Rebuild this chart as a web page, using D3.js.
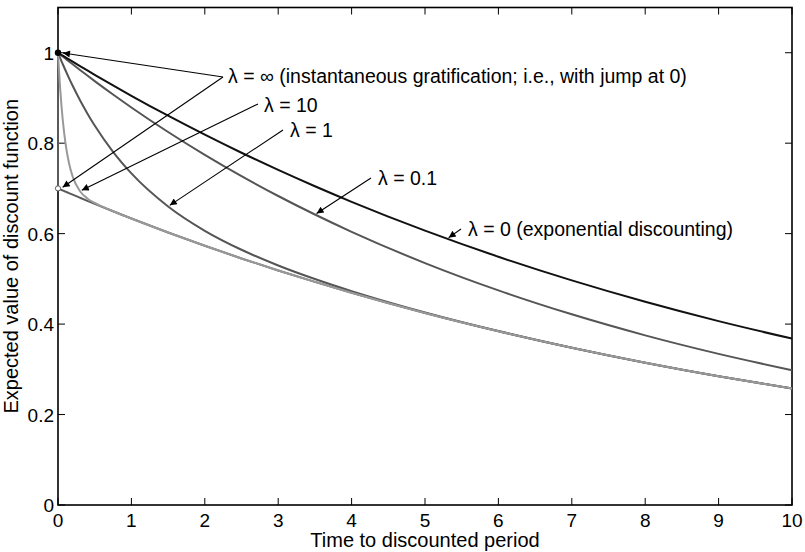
<!DOCTYPE html>
<html>
<head>
<meta charset="utf-8">
<script src="https://cdn.jsdelivr.net/npm/d3@7"></script>
<style>
  html, body { margin: 0; padding: 0; background: #fff; }
  svg { display: block; font-family: "Liberation Sans", Arial, Helvetica, sans-serif; }
</style>
</head>
<body>
<svg id="chart" width="805" height="552"></svg>
<script>
// ---- data ----
const tValues = [0, 0.01, 0.02, 0.03, 0.05, 0.07, 0.1, 0.15, 0.2, 0.3, 0.4, 0.5, 0.75, 1, 1.5, 2, 2.5, 3, 3.5, 4, 5, 6, 7, 8, 9, 10];
const lambda0   = [1, 0.99900, 0.99800, 0.99700, 0.99501, 0.99302, 0.99005, 0.98511, 0.98020, 0.97045, 0.96079, 0.95123, 0.92774, 0.90484, 0.86071, 0.81873, 0.77880, 0.74082, 0.70469, 0.67032, 0.60653, 0.54881, 0.49659, 0.44933, 0.40657, 0.36788];
const lambda01  = [1, 0.99870, 0.99740, 0.99611, 0.99353, 0.99094, 0.98710, 0.98072, 0.97438, 0.96185, 0.94949, 0.93731, 0.90763, 0.87901, 0.82475, 0.77421, 0.72712, 0.68321, 0.64226, 0.60402, 0.53493, 0.47453, 0.42159, 0.37510, 0.33419, 0.29812];
const lambda1   = [1, 0.99602, 0.99207, 0.98816, 0.98046, 0.97288, 0.96179, 0.94395, 0.92690, 0.89500, 0.86576, 0.83895, 0.78089, 0.73325, 0.66012, 0.60635, 0.56434, 0.52963, 0.49966, 0.47290, 0.42580, 0.38458, 0.34775, 0.31458, 0.28462, 0.25753];
const lambda10  = [1, 0.97048, 0.94373, 0.91949, 0.87757, 0.84305, 0.80231, 0.75553, 0.72594, 0.69382, 0.67783, 0.66778, 0.64957, 0.63340, 0.60250, 0.57311, 0.54516, 0.51857, 0.49328, 0.46922, 0.42457, 0.38417, 0.34761, 0.31453, 0.28460, 0.25752];
const lambdaInf = [0.7, 0.69930, 0.69860, 0.69790, 0.69651, 0.69511, 0.69304, 0.68958, 0.68614, 0.67932, 0.67255, 0.66586, 0.64942, 0.63339, 0.60250, 0.57311, 0.54516, 0.51857, 0.49328, 0.46922, 0.42457, 0.38417, 0.34761, 0.31453, 0.28460, 0.25752];
const jumpStart = 1.0;   // lambda = infinity value just before the jump at t = 0
const xTicks = [0, 1, 2, 3, 4, 5, 6, 7, 8, 9, 10];
const yTicks = [0, 0.2, 0.4, 0.6, 0.8, 1];
const xTitle = "Time to discounted period";
const yTitle = "Expected value of discount function";
const annotations = [
  { text: "λ = ∞ (instantaneous gratification; i.e., with jump at 0)", tx: 228, ty: 83, targets: [[0, 1.0], [0, 0.7]], tails: [[223, 77], [223, 77]] },
  { text: "λ = 10", tx: 264, ty: 112, targets: [[0.3, 0.69382]], tails: [[258, 104]] },
  { text: "λ = 1", tx: 290, ty: 137, targets: [[1.5, 0.66012]], tails: [[283, 130]] },
  { text: "λ = 0.1", tx: 378, ty: 185, targets: [[3.5, 0.64226]], tails: [[371, 178]] },
  { text: "λ = 0 (exponential discounting)", tx: 468, ty: 236, targets: [[5.3, 0.58860]], tails: [[461, 229]] }
];

// ---- layout ----
const svg = d3.select("#chart");
const mLeft = 58, mRight = 792, mTop = 7.5, mBottom = 505;
const x = d3.scaleLinear().domain([0, 10]).range([mLeft, mRight]);
const y = d3.scaleLinear().domain([0, 1.1]).range([mBottom, mTop]);

svg.append("defs").append("marker")
  .attr("id", "arrow").attr("viewBox", "0 0 10 10").attr("refX", 10).attr("refY", 5)
  .attr("markerWidth", 11).attr("markerHeight", 7).attr("markerUnits", "userSpaceOnUse")
  .attr("orient", "auto")
  .append("path").attr("d", "M0,0 L10,5 L0,10 Z").attr("fill", "#000");

// axes box with inward ticks on all sides (drawn first so curves sit on top)
const tickLen = 7;
const axG = svg.append("g").attr("stroke", "#000").attr("stroke-width", 1.6);
axG.append("rect").attr("x", mLeft).attr("y", mTop).attr("width", mRight - mLeft).attr("height", mBottom - mTop).attr("fill", "none");
xTicks.forEach(t => {
  axG.append("line").attr("x1", x(t)).attr("x2", x(t)).attr("y1", mBottom).attr("y2", mBottom - tickLen).attr("stroke-width", 1);
  axG.append("line").attr("x1", x(t)).attr("x2", x(t)).attr("y1", mTop).attr("y2", mTop + tickLen).attr("stroke-width", 1);
});
yTicks.forEach(v => {
  axG.append("line").attr("x1", mLeft).attr("x2", mLeft + tickLen).attr("y1", y(v)).attr("y2", y(v)).attr("stroke-width", 1);
  axG.append("line").attr("x1", mRight).attr("x2", mRight - tickLen).attr("y1", y(v)).attr("y2", y(v)).attr("stroke-width", 1);
});

const line = d3.line().x(d => x(d[0])).y(d => y(d[1])).curve(d3.curveMonotoneX);
const zip = vals => tValues.map((t, i) => [t, vals[i]]);

const g = svg.append("g");
// lambda = infinity: vertical jump then decay
g.append("path")
  .attr("d", `M${x(0)},${y(jumpStart)}L${x(0)},${y(lambdaInf[0])}` + line(zip(lambdaInf)).replace(/^M/, "L"))
  .attr("fill", "none").attr("stroke", "#5a5a5a").attr("stroke-width", 2);
g.append("path").attr("d", line(zip(lambda1))).attr("fill", "none").attr("stroke", "#555").attr("stroke-width", 2);
g.append("path").attr("d", line(zip(lambda01))).attr("fill", "none").attr("stroke", "#555").attr("stroke-width", 2);
g.append("path").attr("d", line(zip(lambda10))).attr("fill", "none").attr("stroke", "#999").attr("stroke-width", 2);
g.append("path").attr("d", line(zip(lambda0))).attr("fill", "none").attr("stroke", "#111").attr("stroke-width", 2);

// jump markers
g.append("circle").attr("cx", x(0)).attr("cy", y(jumpStart)).attr("r", 3.2).attr("fill", "#000");
g.append("circle").attr("cx", x(0)).attr("cy", y(lambdaInf[0])).attr("r", 2.6).attr("fill", "#fff").attr("stroke", "#555").attr("stroke-width", 1);

const fs = 19;
svg.append("g").selectAll("text").data(xTicks).join("text")
  .attr("x", d => x(d)).attr("y", 527).attr("text-anchor", "middle")
  .attr("font-size", fs).attr("fill", "#000").text(d => d);
svg.append("g").selectAll("text").data(yTicks).join("text")
  .attr("x", mLeft - 4).attr("y", d => y(d) + 7).attr("text-anchor", "end")
  .attr("font-size", fs).attr("fill", "#000").text(d => d);

svg.append("text").attr("x", (mLeft + mRight) / 2).attr("y", 547).attr("text-anchor", "middle")
  .attr("font-size", 20).attr("fill", "#000").text(xTitle);
svg.append("text").attr("transform", `translate(18,${(mTop + mBottom) / 2}) rotate(-90)`).attr("text-anchor", "middle")
  .attr("font-size", 20).attr("fill", "#000").text(yTitle);

// annotations
const ann = svg.append("g");
annotations.forEach(a => {
  a.targets.forEach((tg, i) => {
    const [x1, y1] = a.tails[i];
    const x2 = x(tg[0]) + (tg[0] === 0 ? 3 : 0), y2 = y(tg[1]);
    const dx = x2 - x1, dy = y2 - y1, L = Math.hypot(dx, dy);
    const ex = x2 - dx / L * 2, ey = y2 - dy / L * 2;
    ann.append("line").attr("x1", x1).attr("y1", y1).attr("x2", ex).attr("y2", ey)
      .attr("stroke", "#000").attr("stroke-width", 1.1).attr("marker-end", "url(#arrow)");
  });
  ann.append("text").attr("x", a.tx).attr("y", a.ty).attr("font-size", 19.5).attr("fill", "#000").text(a.text);
});
</script>
</body>
</html>
